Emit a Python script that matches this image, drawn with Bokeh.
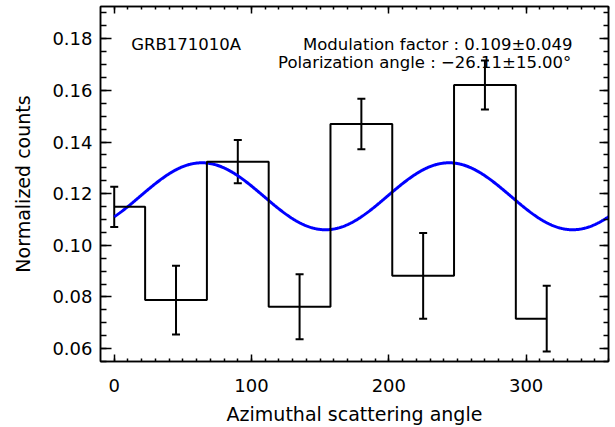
import numpy as np
from bokeh.plotting import figure
from bokeh.models import (Range1d, FixedTicker, LinearAxis, Whisker, TeeHead,
                          ColumnDataSource, Label, PrintfTickFormatter)
from bokeh.embed import file_html
from bokeh.resources import INLINE

# ---- data ----
angles = [0, 45, 90, 135, 180, 225, 270, 315]
counts = [0.1149, 0.0788, 0.1324, 0.0762, 0.1470, 0.0882, 0.1621, 0.0716]
errors = [0.0078, 0.0133, 0.0084, 0.0126, 0.0098, 0.0166, 0.0095, 0.0127]

mean_level = 0.119
mod_factor = 0.109
mod_error = 0.049
pol_angle = -26.11
pol_error = 15.00

x_ticks = [0, 100, 200, 300]
x_minor = list(range(0, 361, 10))
y_ticks = [0.06, 0.08, 0.10, 0.12, 0.14, 0.16, 0.18]
y_minor = [round(0.055 + 0.005 * i, 3) for i in range(28)]

FONT = "DejaVu Sans"

p = figure(width=615, height=427, x_range=Range1d(-10, 360),
           y_range=Range1d(0.055, 0.1925), output_backend="svg",
           toolbar_location=None, min_border_left=100, min_border_right=7,
           min_border_top=6, min_border_bottom=61)
p.xgrid.visible = False
p.ygrid.visible = False
p.outline_line_color = "black"
p.outline_line_width = 1.5
p.background_fill_color = "white"
p.border_fill_color = "white"

# fitted modulation curve
xc = np.linspace(0, 360, 721)
yc = mean_level * (1 + mod_factor * np.cos(np.radians(2 * (xc - (pol_angle + 90)))))
p.line(xc, yc, line_color="#0000ff", line_width=3)

# histogram (IDL psym=10 style)
src = ColumnDataSource(dict(
    x=angles, y=counts,
    upper=[c + e for c, e in zip(counts, errors)],
    lower=[c - e for c, e in zip(counts, errors)]))
p.step("x", "y", source=src, mode="center", line_color="black", line_width=2)
p.add_layout(Whisker(source=src, base="x", upper="upper", lower="lower",
                     dimension="height", line_color="black", line_width=2,
                     upper_head=TeeHead(size=8, line_width=2, line_color="black"),
                     lower_head=TeeHead(size=8, line_width=2, line_color="black")))

# axes
xa = p.xaxis[0]
xa.ticker = FixedTicker(ticks=x_ticks, minor_ticks=x_minor)
ya = p.yaxis[0]
ya.ticker = FixedTicker(ticks=y_ticks, minor_ticks=y_minor)
ya.formatter = PrintfTickFormatter(format="%.2f")
xa.axis_label = "Azimuthal scattering angle"
ya.axis_label = "Normalized counts"

for ax, mj, mn in ((xa, 7, 3), (ya, 11, 6)):
    ax.major_tick_in = mj
    ax.major_tick_out = 0
    ax.minor_tick_in = mn
    ax.minor_tick_out = 0
    ax.axis_line_width = 1.5
    ax.axis_line_color = "black"
    ax.major_tick_line_color = "black"
    ax.minor_tick_line_color = "black"
    ax.major_tick_line_width = 1.5
    ax.minor_tick_line_width = 1.5
    ax.major_label_text_font = FONT
    ax.major_label_text_font_size = "18px"
    ax.major_label_text_color = "black"
    ax.axis_label_text_font = FONT
    ax.axis_label_text_font_size = "19px"
    ax.axis_label_text_font_style = "normal"
    ax.axis_label_text_color = "black"
xa.major_label_standoff = 17
xa.axis_label_standoff = 8
ya.major_label_standoff = 8
ya.axis_label_standoff = 15

# mirrored (unlabelled) axes on top and right
top = LinearAxis(ticker=FixedTicker(ticks=x_ticks, minor_ticks=x_minor))
right = LinearAxis(ticker=FixedTicker(ticks=y_ticks, minor_ticks=y_minor))
for ax, mj, mn in ((top, 7, 3), (right, 9, 5)):
    ax.major_tick_in = mj
    ax.major_tick_out = 0
    ax.minor_tick_in = mn
    ax.minor_tick_out = 0
    ax.axis_line_width = 1.5
    ax.axis_line_color = "black"
    ax.major_tick_line_color = "black"
    ax.minor_tick_line_color = "black"
    ax.major_tick_line_width = 1.5
    ax.minor_tick_line_width = 1.5
    ax.major_label_text_font_size = "0px"
    ax.major_label_standoff = 0
p.add_layout(top, "above")
p.add_layout(right, "right")

# annotations
for x, y, t in ((12.4, 0.1777, "GRB171010A"),
                (137.5, 0.1777, f"Modulation factor : {mod_factor:.3f}\u00b1{mod_error:.3f}"),
                (119.3, 0.1709, f"Polarization angle : \u2212{abs(pol_angle):.2f}\u00b1{pol_error:.2f}\u00b0")):
    p.add_layout(Label(x=x, y=y, text=t, text_font=FONT, text_font_size="16.5px",
                       text_color="black", text_baseline="alphabetic"))

open("out.html", "w").write(file_html(p, INLINE))
